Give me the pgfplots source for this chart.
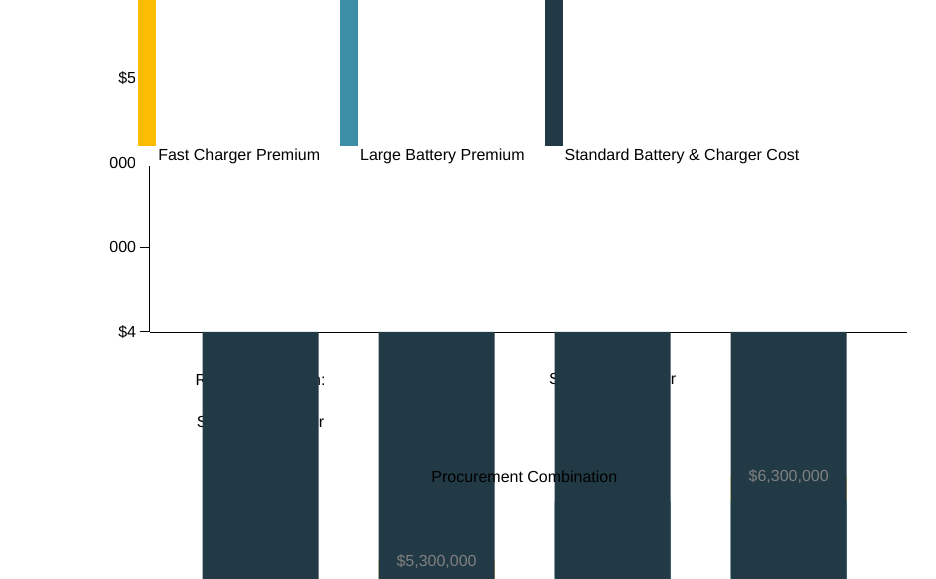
\documentclass[border=0pt]{standalone}
\usepackage{pgfplots}
\pgfplotsset{compat=1.18}
\usepackage{fontspec}
\setmainfont{Liberation Sans}
\definecolor{cdark}{HTML}{223A45}
\definecolor{cteal}{HTML}{3C8DA6}
\definecolor{cyel}{HTML}{FBBC04}
\begin{document}
\begin{tikzpicture}[x=1pt,y=1pt]
\useasboundingbox (0,0) rectangle (936,-578);
\node[text=black!55,font=\fontsize{26}{30}\selectfont] at (468,-48) {Total Procurement Cost Across 250 e-LSVs};
\begin{axis}[at={(148,-392)},anchor=origin,
 scale only axis,width=757pt,height=254pt,
 ybar stacked,bar width=116pt,
 xmin=-0.63,xmax=3.67,ymin=4000000,ymax=7000000,
 xtick={0,1,2,3},
 xticklabels={Sawatch\\Recommendation:\\Small Battery +\\Standard Charger,Small Battery +\\Fast Charger,Large Battery +\\Standard Charger,Large Battery +\\Fast Charger},
 xticklabel style={align=center,font=\fontsize{16}{21}\selectfont,yshift=-12pt},
 ytick={4000000,5000000,6000000,7000000},
 yticklabels={\$4,000,000,\$5,000,000,\$6,000,000,\$7,000,000},
 yticklabel style={font=\fontsize{16}{19}\selectfont},
 scaled y ticks=false,
 axis x line*=bottom,axis y line*=left,
 x axis line style={draw=black,-},y axis line style={draw=black,-},
 tick style={draw=black,line width=1pt},
 major tick length=10pt,
 xtick style={yshift=-5pt},
 xtick align=center,ytick align=outside,
 xlabel={Procurement Combination},
 xlabel style={font=\fontsize{16}{19}\selectfont,at={(axis description cs:0.495,0)},yshift=-135pt,anchor=north},
 legend style={draw=none,at={(0.423,1.161)},anchor=center,font=\fontsize{16}{19}\selectfont,legend columns=3,/tikz/every even column/.append style={column sep=18pt}},
 legend image code/.code={\fill[#1] (0,-8pt) rectangle (18pt,10pt);},
 legend cell align=left,
 reverse legend,
 clip=false]
\addplot[fill=cdark,draw=none] coordinates {(0,1000000) (1,1000000) (2,1000000) (3,1000000)};
\addlegendentry{Standard Battery \& Charger Cost}
\addplot[fill=cteal,draw=none] coordinates {(0,0) (1,0) (2,1000000) (3,1000000)};
\addlegendentry{Large Battery Premium}
\addplot[fill=cyel,draw=none,point meta=explicit symbolic,
 nodes near coords={\$\pgfplotspointmeta},
 nodes near coords style={text=black!50,font=\fontsize{16}{19}\selectfont,yshift=12pt}]
 coordinates {(0,0)[5,000,000] (1,300000)[5,300,000] (2,0)[6,000,000] (3,300000)[6,300,000]};
\addlegendentry{Fast Charger Premium}
\end{axis}
\end{tikzpicture}
\end{document}
